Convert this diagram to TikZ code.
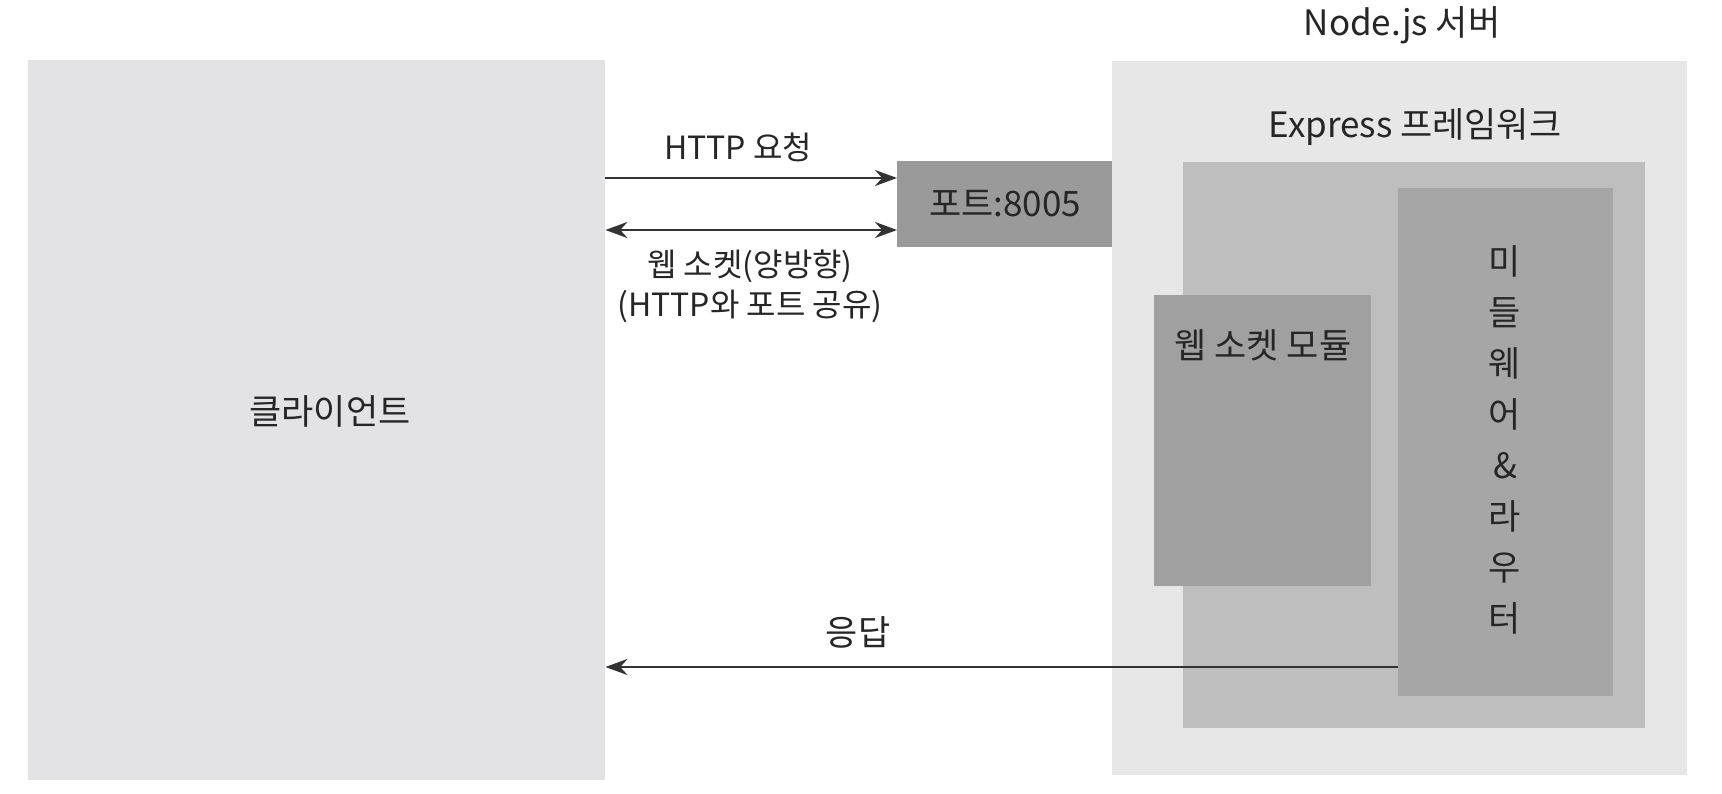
\documentclass[tikz,border=0pt]{standalone}
\usepackage{fontspec}
\setmainfont{Noto Sans CJK KR}
\usetikzlibrary{arrows.meta}
\definecolor{clientc}{RGB}{227,227,229}
\definecolor{serverc}{RGB}{231,231,231}
\definecolor{expressc}{RGB}{190,190,190}
\definecolor{wsc}{RGB}{160,160,160}
\definecolor{mwc}{RGB}{166,166,166}
\definecolor{portc}{RGB}{154,154,154}
\tikzset{
  box/.style={draw=none, anchor=north west, inner sep=0pt},
  lbl/.style={inner sep=0pt, font=\fontsize{35}{42}\selectfont, text=black!85},
  albl/.style={lbl, font=\fontsize{32}{38}\selectfont},
  arr/.style={line width=2.4pt, draw=black!80, -{Stealth[length=22pt,width=16pt]}},
  biarr/.style={line width=2.4pt, draw=black!80, {Stealth[length=22pt,width=16pt]}-{Stealth[length=22pt,width=16pt]}}
}
\begin{document}
\begin{tikzpicture}[x=1pt,y=-1pt]
\useasboundingbox[fill=white] (0,0) rectangle (1722,794);
% boxes
\node[box, fill=clientc, minimum width=577pt, minimum height=720pt] (client) at (28,60) {};
\node[box, fill=serverc, minimum width=575pt, minimum height=714pt] (server) at (1112,61) {};
\node[box, fill=portc, minimum width=215pt, minimum height=86pt] (port) at (897,161) {};
\node[box, fill=expressc, minimum width=462pt, minimum height=566pt] (express) at (1183,162) {};
\node[box, fill=mwc, minimum width=215pt, minimum height=508pt] (mw) at (1398,188) {};
\node[box, fill=wsc, minimum width=217pt, minimum height=291pt] (ws) at (1154,295) {};
% labels
\node[lbl] (clientlbl) at (330,411) {클라이언트};
\node[lbl] (serverlbl) at (1402,25) {Node.js 서버};
\node[lbl] (expresslbl) at (1415,127) {Express 프레임워크};
\node[lbl] (portlbl) at (1005,204) {포트:8005};
\node[lbl] (wslbl) at (1263,345) {웹 소켓 모듈};
\node[lbl, align=center, font=\fontsize{35}{51}\selectfont] (mwlbl) at (1505,440) {미\\들\\웨\\어\\\&\\라\\우\\터};
\node[albl] (reqlbl) at (738,147) {HTTP 요청};
\node[albl] (wsarrlbl) at (750,266) {웹 소켓(양방향)};
\node[albl] (sharelbl) at (750,306) {(HTTP와 포트 공유)};
\node[lbl] (resplbl) at (858,632) {응답};
% connectors
\coordinate (yreq) at (0,178);
\coordinate (yws) at (0,230);
\coordinate (yresp) at (0,667);
\draw[arr] (client.east |- yreq) -- (port.west |- yreq);
\draw[biarr] (client.east |- yws) -- (port.west |- yws);
\draw[arr] (mw.west |- yresp) -- (client.east |- yresp);
\end{tikzpicture}
\end{document}
